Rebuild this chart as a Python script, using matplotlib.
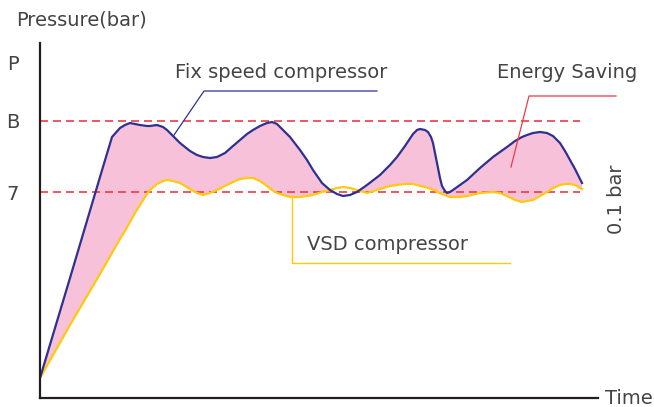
import matplotlib
matplotlib.use('Agg')
import matplotlib.pyplot as plt
import numpy as np

# time (arbitrary units) and pressure level (arbitrary units)
time = [0, 30, 60, 72, 80, 85, 90, 95, 100, 107, 110, 117, 123, 127, 133, 140,
        150, 157, 163, 170, 177, 185, 193, 200, 207, 213, 220, 227, 232, 237,
        243, 250, 260, 267, 273, 282, 290, 297, 303, 310, 317, 327, 340, 350,
        357, 365, 373, 377, 380, 385, 388, 391, 393, 395, 397, 400, 402, 405,
        407, 410, 413, 420, 427, 440, 453, 460, 467, 475, 482, 487, 493, 500,
        507, 513, 520, 525, 530, 535, 542]

fixed_speed = [20, 120, 221, 261, 270, 273, 275, 274, 273, 272, 272, 273, 271,
               268, 262, 255, 247, 243, 241, 240, 241, 245, 252, 258, 264, 268,
               272, 275, 276, 274, 268, 261, 248, 238, 228, 215, 208, 204, 202,
               203, 206, 213, 223, 233, 241, 252, 264, 268, 269, 268, 266, 261,
               255, 245, 235, 220, 212, 207, 205, 206, 208, 213, 218, 230, 241,
               246, 251, 257, 261, 263, 265, 266, 265, 262, 255, 247, 238, 229,
               215]

vsd = [20, 73, 124, 145, 159, 167, 176, 185, 193, 204, 208, 214, 217, 218, 217,
       215, 209, 205, 203, 205, 208, 212, 216, 219, 220, 220, 217, 212, 208,
       205, 203, 201, 201, 202, 203, 206, 208, 210, 211, 210, 208, 205, 209,
       212, 213, 214, 214, 213, 212, 211, 210, 209, 208, 208, 206, 205, 204,
       203, 202, 201, 201, 201, 202, 205, 206, 205, 202, 198, 196, 197, 198,
       202, 206, 210, 213, 214, 214, 213, 209]

upper_limit = 277   # "B"
lower_limit = 206   # "7"
ytick_pos = [206, 277, 336]
ytick_labels = ['7', 'B', 'P']

BLUE = '#2e3192'
YELLOW = '#ffc90e'
PINK = '#f7c1d9'
RED = '#ee3a43'
TEXT = '#444444'
AXIS = '#231f20'

plt.rcParams['font.family'] = ['DejaVu Sans']

fig = plt.figure(figsize=(6.54, 4.07), dpi=100)
ax = fig.add_axes([40 / 654, 9 / 407, 558 / 654, 355 / 407])
ax.set_xlim(0, 558)
ax.set_ylim(0, 355)

t = np.array(time)
fs = np.array(fixed_speed)
vs = np.array(vsd)

ax.fill_between(t, vs, fs, where=fs >= vs, interpolate=True, color=PINK, lw=0)

ax.hlines([upper_limit, lower_limit], 0, 540, colors=RED, lw=1.2,
          linestyles=(0, (4.8, 3.0)))

ax.plot(t, vs, color=YELLOW, lw=1.6, solid_joinstyle='round')
ax.plot(t, fs, color=BLUE, lw=1.6, solid_joinstyle='round')

# leader lines and labels
ax.plot([134, 164, 337], [263, 307, 307], color=BLUE, lw=0.9, clip_on=False)
ax.plot([471, 489, 576], [231, 302, 302], color=RED, lw=0.9, clip_on=False)
ax.plot([252, 252, 470], [201, 135, 135], color=YELLOW, lw=1.0, clip_on=False)

fs_txt = 14
ax.text(135, 326, 'Fix speed compressor', fontsize=fs_txt, color=TEXT,
        va='center', ha='left', clip_on=False)
ax.text(457, 326, 'Energy Saving', fontsize=fs_txt, color=TEXT,
        va='center', ha='left', clip_on=False)
ax.text(267, 154, 'VSD compressor', fontsize=fs_txt, color=TEXT,
        va='center', ha='left', clip_on=False)
ax.text(576, 199, '0.1 bar', fontsize=fs_txt, color=TEXT, rotation=90,
        va='center', ha='center', clip_on=False)
ax.text(565, 0, 'Time', fontsize=fs_txt, color=TEXT,
        va='center', ha='left', clip_on=False)
ax.text(-24, 378, 'Pressure(bar)', fontsize=fs_txt, color=TEXT,
        va='center', ha='left', clip_on=False)

ax.set_xticks([])
ax.set_yticks(ytick_pos, ytick_labels)
ax.tick_params(axis='y', length=0, pad=15, labelsize=fs_txt, labelcolor=TEXT)

for side in ['top', 'right']:
    ax.spines[side].set_visible(False)
for side in ['left', 'bottom']:
    ax.spines[side].set_color(AXIS)
    ax.spines[side].set_linewidth(1.6)

fig.savefig('out.png', dpi=100)
